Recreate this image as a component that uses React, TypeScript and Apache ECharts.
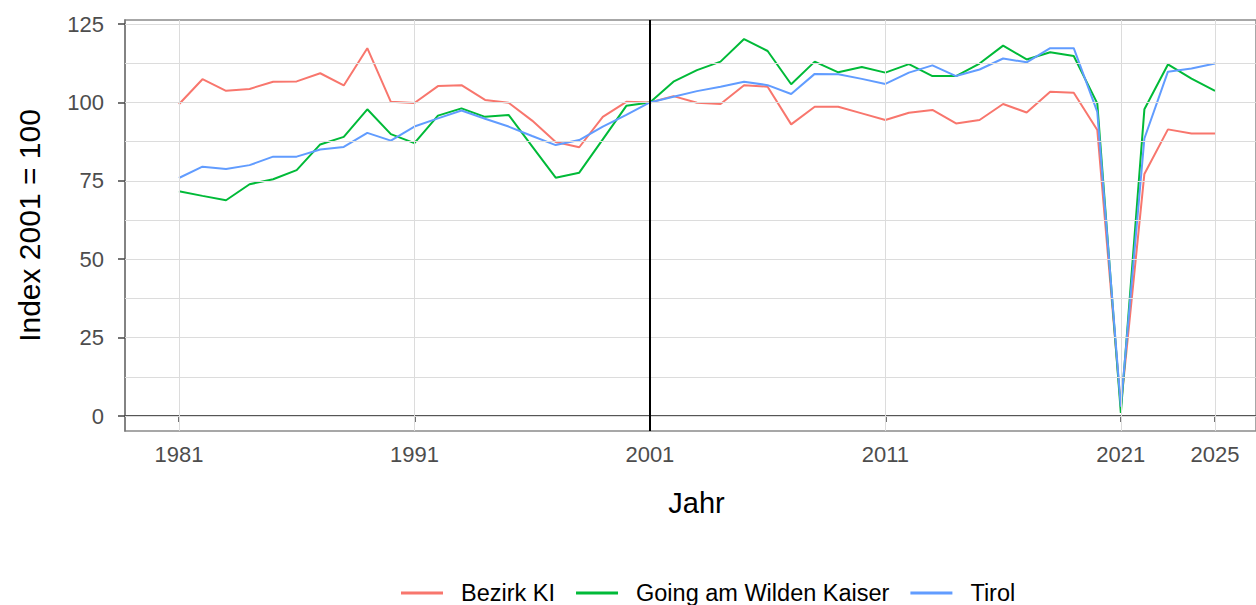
import React, { useEffect, useRef } from "react";
import * as echarts from "echarts";

const years: number[] = [
  1981, 1982, 1983, 1984, 1985, 1986, 1987, 1988, 1989, 1990,
  1991, 1992, 1993, 1994, 1995, 1996, 1997, 1998, 1999, 2000,
  2001, 2002, 2003, 2004, 2005, 2006, 2007, 2008, 2009, 2010,
  2011, 2012, 2013, 2014, 2015, 2016, 2017, 2018, 2019, 2020,
  2021, 2022, 2023, 2024, 2025,
];

const bezirkKI: number[] = [
  99.4, 107.4, 103.7, 104.3, 106.6, 106.7, 109.3, 105.4, 117.3, 100.2,
  99.8, 105.2, 105.5, 100.8, 99.9, 94.2, 87.4, 85.7, 95.4, 100.2,
  100, 102.0, 99.9, 99.5, 105.5, 105.0, 93.0, 98.6, 98.6, 96.5,
  94.4, 96.7, 97.6, 93.3, 94.4, 99.5, 96.8, 103.4, 103.1, 91.2,
  3, 77.2, 91.4, 90.1, 90.1,
];

const going: number[] = [
  71.7, 70.2, 68.8, 73.9, 75.5, 78.4, 86.6, 89.0, 97.8, 89.9,
  87.0, 95.8, 98.1, 95.4, 96.0, 86.0, 76.0, 77.6, 88.2, 98.9,
  100, 106.6, 110.3, 113.0, 120.2, 116.4, 105.8, 113.0, 109.6, 111.3,
  109.5, 112.2, 108.4, 108.4, 112.4, 118.1, 113.7, 116.0, 114.8, 99.7,
  1, 97.8, 112.1, 107.6, 103.7,
];

const tirol: number[] = [
  75.9, 79.5, 78.8, 80.0, 82.7, 82.7, 85.0, 85.8, 90.3, 87.8,
  92.3, 94.9, 97.4, 94.8, 92.3, 89.3, 86.4, 88.0, 92.3, 96.0,
  100, 101.8, 103.6, 105.0, 106.6, 105.5, 102.7, 109.1, 109.0, 107.5,
  105.9, 109.5, 111.8, 108.4, 110.5, 114.0, 112.8, 117.3, 117.3, 97.0,
  3, 88.5, 109.8, 110.8, 112.4,
];

const seriesNames: string[] = ["Bezirk KI", "Going am Wilden Kaiser", "Tirol"];
const seriesColors: string[] = ["#F8766D", "#00BA38", "#619CFF"];
const xTicks: number[] = [1981, 1991, 2001, 2011, 2021, 2025];
const yTicks: number[] = [0, 25, 50, 75, 100, 125];
const yGrid: number[] = [0, 12.5, 25, 37.5, 50, 62.5, 75, 87.5, 100, 112.5, 125];
const refYear = 2001;

const FONT = "'Liberation Sans', Arial, Helvetica, sans-serif";

export default function App() {
  const ref = useRef<HTMLDivElement>(null);

  useEffect(() => {
    if (!ref.current) return;
    const chart = echarts.init(ref.current, null, { renderer: "svg" });
    const values = [bezirkKI, going, tirol];

    const gridLines = [
      ...yGrid.map((v) => ({ yAxis: v })),
      ...xTicks.map((v) => ({ xAxis: v })),
    ];

    const option: any = {
      animation: false,
      backgroundColor: "#ffffff",
      textStyle: { fontFamily: FONT },
      grid: {
        left: 125,
        right: 0,
        top: 20,
        bottom: 605 - 431,
        show: true,
        borderColor: "#8a8a8a",
        borderWidth: 1.5,
        containLabel: false,
      },
      xAxis: {
        type: "value",
        min: 1978.71,
        max: 2026.74,
        name: "Jahr",
        nameLocation: "middle",
        nameGap: 57,
        nameTextStyle: {
          fontSize: 29,
          color: "#000",
          fontFamily: FONT,
          padding: [0, 0, 0, 12],
        },
        axisLine: { show: true, lineStyle: { color: "#555", width: 2 } },
        axisTick: {
          show: true,
          length: 6,
          customValues: xTicks,
          lineStyle: { color: "#444", width: 1.5 },
        },
        axisLabel: {
          customValues: xTicks,
          formatter: (v: number) => String(v),
          fontSize: 22,
          color: "#4d4d4d",
          margin: 12,
          fontFamily: FONT,
        },
        splitLine: { show: false },
      },
      yAxis: {
        type: "value",
        min: -4.78,
        max: 126.28,
        name: "Index 2001 = 100",
        nameLocation: "middle",
        nameGap: 81,
        nameTextStyle: { fontSize: 30, color: "#000", fontFamily: FONT },
        axisLine: { show: true, lineStyle: { color: "#777", width: 1.5 } },
        axisTick: {
          show: true,
          length: 7,
          customValues: yTicks,
          lineStyle: { color: "#444", width: 1.5 },
        },
        axisLabel: {
          customValues: yTicks,
          formatter: (v: number) => String(v),
          fontSize: 22,
          color: "#4d4d4d",
          margin: 21,
          fontFamily: FONT,
        },
        splitLine: { show: false },
      },
      legend: {
        data: seriesNames,
        left: 396,
        top: 576,
        icon: "rect",
        itemWidth: 42,
        itemHeight: 3,
        itemGap: 21,
        textStyle: {
          fontSize: 23.5,
          color: "#000",
          fontFamily: FONT,
          padding: [0, 0, 0, 13],
        },
      },
      series: [
        {
          name: "__grid",
          type: "line",
          data: [],
          z: 1,
          silent: true,
          markLine: {
            silent: true,
            symbol: ["none", "none"],
            label: { show: false },
            lineStyle: { color: "#dcdcdc", width: 1, type: "solid" },
            data: gridLines,
            animation: false,
          },
        },
        ...seriesNames.map((name, i) => ({
          name,
          type: "line",
          z: 2,
          showSymbol: false,
          symbol: "none",
          color: seriesColors[i],
          lineStyle: { color: seriesColors[i], width: 2 },
          data: years.map((y, j) => [y, values[i][j]]),
        })),
        {
          name: "__ref",
          type: "line",
          data: [],
          z: 3,
          silent: true,
          markLine: {
            silent: true,
            symbol: ["none", "none"],
            label: { show: false },
            lineStyle: { color: "#000", width: 2, type: "solid" },
            data: [{ xAxis: refYear }],
            animation: false,
          },
        },
      ],
    };

    chart.setOption(option);
    return () => chart.dispose();
  }, []);

  return (
    <div
      ref={ref}
      style={{ position: "fixed", left: 0, top: 0, width: 1256, height: 605 }}
    />
  );
}
